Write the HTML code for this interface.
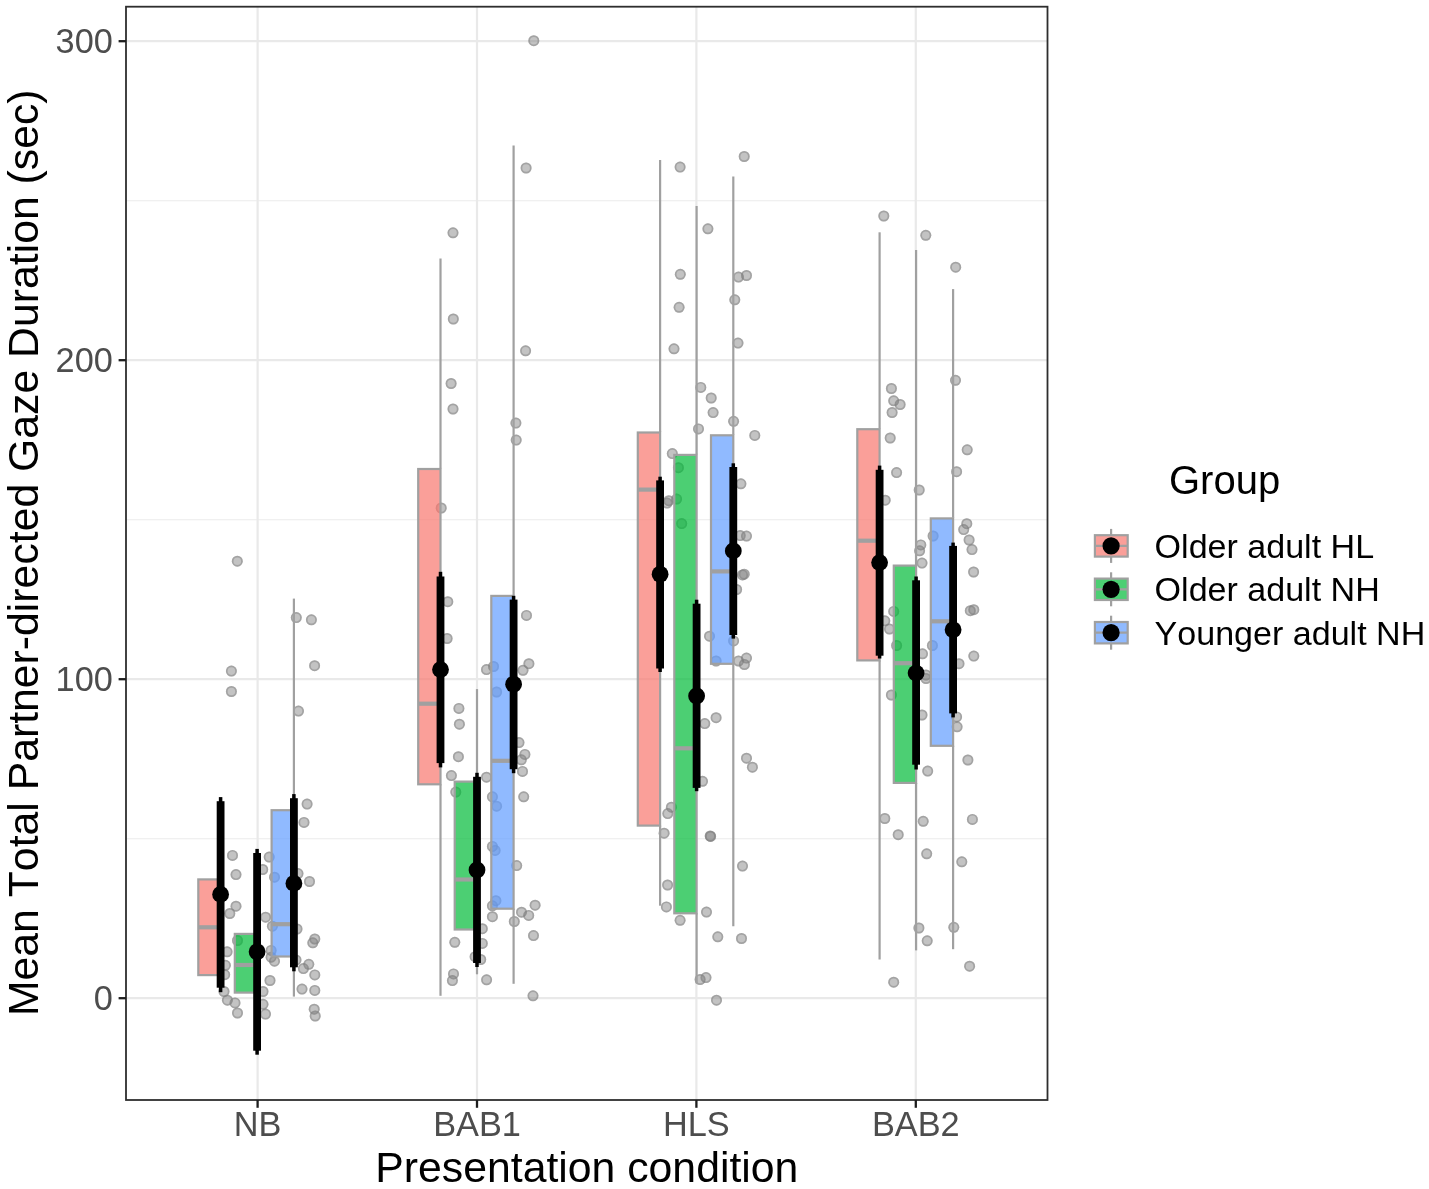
<!DOCTYPE html>
<html><head><meta charset="utf-8"><style>
html,body{margin:0;padding:0;background:#fff;}
svg{display:block;}
svg{will-change:transform;}
text{font-family:"Liberation Sans",sans-serif;font-kerning:none;}
.ax{font-size:34.3px;fill:#4D4D4D;}
.tt{font-size:42.75px;fill:#000;}
.lt{font-size:40px;fill:#000;}
.lx{font-size:34.05px;fill:#000;}
</style></head><body>
<svg width="1429" height="1189" viewBox="0 0 1429 1189">
<rect x="0" y="0" width="1429" height="1189" fill="#fff"/>
<line x1="126.0" x2="1047.5" y1="838.70" y2="838.70" stroke="#EBEBEB" stroke-width="1.1"/>
<line x1="126.0" x2="1047.5" y1="519.70" y2="519.70" stroke="#EBEBEB" stroke-width="1.1"/>
<line x1="126.0" x2="1047.5" y1="200.70" y2="200.70" stroke="#EBEBEB" stroke-width="1.1"/>
<line x1="126.0" x2="1047.5" y1="998.20" y2="998.20" stroke="#E9E9E9" stroke-width="2.2"/>
<line x1="126.0" x2="1047.5" y1="679.20" y2="679.20" stroke="#E9E9E9" stroke-width="2.2"/>
<line x1="126.0" x2="1047.5" y1="360.20" y2="360.20" stroke="#E9E9E9" stroke-width="2.2"/>
<line x1="126.0" x2="1047.5" y1="41.20" y2="41.20" stroke="#E9E9E9" stroke-width="2.2"/>
<line x1="257.6" x2="257.6" y1="6.7" y2="1100.0" stroke="#E9E9E9" stroke-width="2.2"/>
<line x1="477.0" x2="477.0" y1="6.7" y2="1100.0" stroke="#E9E9E9" stroke-width="2.2"/>
<line x1="696.4" x2="696.4" y1="6.7" y2="1100.0" stroke="#E9E9E9" stroke-width="2.2"/>
<line x1="915.8" x2="915.8" y1="6.7" y2="1100.0" stroke="#E9E9E9" stroke-width="2.2"/>
<circle cx="237.3" cy="561.2" r="5.5" fill="rgba(127,127,127,0.47)"/><circle cx="237.3" cy="561.2" r="4.65" fill="none" stroke="rgba(127,127,127,0.47)" stroke-width="1.7"/>
<circle cx="231.4" cy="671.1" r="5.5" fill="rgba(127,127,127,0.47)"/><circle cx="231.4" cy="671.1" r="4.65" fill="none" stroke="rgba(127,127,127,0.47)" stroke-width="1.7"/>
<circle cx="231.4" cy="691.5" r="5.5" fill="rgba(127,127,127,0.47)"/><circle cx="231.4" cy="691.5" r="4.65" fill="none" stroke="rgba(127,127,127,0.47)" stroke-width="1.7"/>
<circle cx="296.3" cy="617.6" r="5.5" fill="rgba(127,127,127,0.47)"/><circle cx="296.3" cy="617.6" r="4.65" fill="none" stroke="rgba(127,127,127,0.47)" stroke-width="1.7"/>
<circle cx="311.4" cy="619.8" r="5.5" fill="rgba(127,127,127,0.47)"/><circle cx="311.4" cy="619.8" r="4.65" fill="none" stroke="rgba(127,127,127,0.47)" stroke-width="1.7"/>
<circle cx="314.6" cy="665.7" r="5.5" fill="rgba(127,127,127,0.47)"/><circle cx="314.6" cy="665.7" r="4.65" fill="none" stroke="rgba(127,127,127,0.47)" stroke-width="1.7"/>
<circle cx="298.5" cy="711.1" r="5.5" fill="rgba(127,127,127,0.47)"/><circle cx="298.5" cy="711.1" r="4.65" fill="none" stroke="rgba(127,127,127,0.47)" stroke-width="1.7"/>
<circle cx="307.1" cy="804.1" r="5.5" fill="rgba(127,127,127,0.47)"/><circle cx="307.1" cy="804.1" r="4.65" fill="none" stroke="rgba(127,127,127,0.47)" stroke-width="1.7"/>
<circle cx="304" cy="822.4" r="5.5" fill="rgba(127,127,127,0.47)"/><circle cx="304" cy="822.4" r="4.65" fill="none" stroke="rgba(127,127,127,0.47)" stroke-width="1.7"/>
<circle cx="232.5" cy="855.4" r="5.5" fill="rgba(127,127,127,0.47)"/><circle cx="232.5" cy="855.4" r="4.65" fill="none" stroke="rgba(127,127,127,0.47)" stroke-width="1.7"/>
<circle cx="236" cy="874.6" r="5.5" fill="rgba(127,127,127,0.47)"/><circle cx="236" cy="874.6" r="4.65" fill="none" stroke="rgba(127,127,127,0.47)" stroke-width="1.7"/>
<circle cx="269.2" cy="857.1" r="5.5" fill="rgba(127,127,127,0.47)"/><circle cx="269.2" cy="857.1" r="4.65" fill="none" stroke="rgba(127,127,127,0.47)" stroke-width="1.7"/>
<circle cx="262.7" cy="869.5" r="5.5" fill="rgba(127,127,127,0.47)"/><circle cx="262.7" cy="869.5" r="4.65" fill="none" stroke="rgba(127,127,127,0.47)" stroke-width="1.7"/>
<circle cx="274.5" cy="877.2" r="5.5" fill="rgba(127,127,127,0.47)"/><circle cx="274.5" cy="877.2" r="4.65" fill="none" stroke="rgba(127,127,127,0.47)" stroke-width="1.7"/>
<circle cx="298" cy="873.6" r="5.5" fill="rgba(127,127,127,0.47)"/><circle cx="298" cy="873.6" r="4.65" fill="none" stroke="rgba(127,127,127,0.47)" stroke-width="1.7"/>
<circle cx="309.5" cy="881.5" r="5.5" fill="rgba(127,127,127,0.47)"/><circle cx="309.5" cy="881.5" r="4.65" fill="none" stroke="rgba(127,127,127,0.47)" stroke-width="1.7"/>
<circle cx="236" cy="906.2" r="5.5" fill="rgba(127,127,127,0.47)"/><circle cx="236" cy="906.2" r="4.65" fill="none" stroke="rgba(127,127,127,0.47)" stroke-width="1.7"/>
<circle cx="229.8" cy="913.5" r="5.5" fill="rgba(127,127,127,0.47)"/><circle cx="229.8" cy="913.5" r="4.65" fill="none" stroke="rgba(127,127,127,0.47)" stroke-width="1.7"/>
<circle cx="265.6" cy="917.2" r="5.5" fill="rgba(127,127,127,0.47)"/><circle cx="265.6" cy="917.2" r="4.65" fill="none" stroke="rgba(127,127,127,0.47)" stroke-width="1.7"/>
<circle cx="272.4" cy="926.2" r="5.5" fill="rgba(127,127,127,0.47)"/><circle cx="272.4" cy="926.2" r="4.65" fill="none" stroke="rgba(127,127,127,0.47)" stroke-width="1.7"/>
<circle cx="297" cy="929" r="5.5" fill="rgba(127,127,127,0.47)"/><circle cx="297" cy="929" r="4.65" fill="none" stroke="rgba(127,127,127,0.47)" stroke-width="1.7"/>
<circle cx="314.8" cy="939" r="5.5" fill="rgba(127,127,127,0.47)"/><circle cx="314.8" cy="939" r="4.65" fill="none" stroke="rgba(127,127,127,0.47)" stroke-width="1.7"/>
<circle cx="312.8" cy="942.8" r="5.5" fill="rgba(127,127,127,0.47)"/><circle cx="312.8" cy="942.8" r="4.65" fill="none" stroke="rgba(127,127,127,0.47)" stroke-width="1.7"/>
<circle cx="237.5" cy="940.5" r="5.5" fill="rgba(127,127,127,0.47)"/><circle cx="237.5" cy="940.5" r="4.65" fill="none" stroke="rgba(127,127,127,0.47)" stroke-width="1.7"/>
<circle cx="227.1" cy="951.8" r="5.5" fill="rgba(127,127,127,0.47)"/><circle cx="227.1" cy="951.8" r="4.65" fill="none" stroke="rgba(127,127,127,0.47)" stroke-width="1.7"/>
<circle cx="271.1" cy="950.4" r="5.5" fill="rgba(127,127,127,0.47)"/><circle cx="271.1" cy="950.4" r="4.65" fill="none" stroke="rgba(127,127,127,0.47)" stroke-width="1.7"/>
<circle cx="274.5" cy="961.2" r="5.5" fill="rgba(127,127,127,0.47)"/><circle cx="274.5" cy="961.2" r="4.65" fill="none" stroke="rgba(127,127,127,0.47)" stroke-width="1.7"/>
<circle cx="271.1" cy="957.2" r="5.5" fill="rgba(127,127,127,0.47)"/><circle cx="271.1" cy="957.2" r="4.65" fill="none" stroke="rgba(127,127,127,0.47)" stroke-width="1.7"/>
<circle cx="225.4" cy="965.3" r="5.5" fill="rgba(127,127,127,0.47)"/><circle cx="225.4" cy="965.3" r="4.65" fill="none" stroke="rgba(127,127,127,0.47)" stroke-width="1.7"/>
<circle cx="224.7" cy="974.7" r="5.5" fill="rgba(127,127,127,0.47)"/><circle cx="224.7" cy="974.7" r="4.65" fill="none" stroke="rgba(127,127,127,0.47)" stroke-width="1.7"/>
<circle cx="308.8" cy="964.3" r="5.5" fill="rgba(127,127,127,0.47)"/><circle cx="308.8" cy="964.3" r="4.65" fill="none" stroke="rgba(127,127,127,0.47)" stroke-width="1.7"/>
<circle cx="303.4" cy="968.6" r="5.5" fill="rgba(127,127,127,0.47)"/><circle cx="303.4" cy="968.6" r="4.65" fill="none" stroke="rgba(127,127,127,0.47)" stroke-width="1.7"/>
<circle cx="314.8" cy="974.9" r="5.5" fill="rgba(127,127,127,0.47)"/><circle cx="314.8" cy="974.9" r="4.65" fill="none" stroke="rgba(127,127,127,0.47)" stroke-width="1.7"/>
<circle cx="270" cy="980.5" r="5.5" fill="rgba(127,127,127,0.47)"/><circle cx="270" cy="980.5" r="4.65" fill="none" stroke="rgba(127,127,127,0.47)" stroke-width="1.7"/>
<circle cx="302" cy="989.1" r="5.5" fill="rgba(127,127,127,0.47)"/><circle cx="302" cy="989.1" r="4.65" fill="none" stroke="rgba(127,127,127,0.47)" stroke-width="1.7"/>
<circle cx="314.8" cy="990.4" r="5.5" fill="rgba(127,127,127,0.47)"/><circle cx="314.8" cy="990.4" r="4.65" fill="none" stroke="rgba(127,127,127,0.47)" stroke-width="1.7"/>
<circle cx="224" cy="991.5" r="5.5" fill="rgba(127,127,127,0.47)"/><circle cx="224" cy="991.5" r="4.65" fill="none" stroke="rgba(127,127,127,0.47)" stroke-width="1.7"/>
<circle cx="263" cy="991.5" r="5.5" fill="rgba(127,127,127,0.47)"/><circle cx="263" cy="991.5" r="4.65" fill="none" stroke="rgba(127,127,127,0.47)" stroke-width="1.7"/>
<circle cx="227.4" cy="1000.2" r="5.5" fill="rgba(127,127,127,0.47)"/><circle cx="227.4" cy="1000.2" r="4.65" fill="none" stroke="rgba(127,127,127,0.47)" stroke-width="1.7"/>
<circle cx="235" cy="1002.9" r="5.5" fill="rgba(127,127,127,0.47)"/><circle cx="235" cy="1002.9" r="4.65" fill="none" stroke="rgba(127,127,127,0.47)" stroke-width="1.7"/>
<circle cx="237.5" cy="1013" r="5.5" fill="rgba(127,127,127,0.47)"/><circle cx="237.5" cy="1013" r="4.65" fill="none" stroke="rgba(127,127,127,0.47)" stroke-width="1.7"/>
<circle cx="263" cy="1004.3" r="5.5" fill="rgba(127,127,127,0.47)"/><circle cx="263" cy="1004.3" r="4.65" fill="none" stroke="rgba(127,127,127,0.47)" stroke-width="1.7"/>
<circle cx="265.5" cy="1014.1" r="5.5" fill="rgba(127,127,127,0.47)"/><circle cx="265.5" cy="1014.1" r="4.65" fill="none" stroke="rgba(127,127,127,0.47)" stroke-width="1.7"/>
<circle cx="314.2" cy="1009.2" r="5.5" fill="rgba(127,127,127,0.47)"/><circle cx="314.2" cy="1009.2" r="4.65" fill="none" stroke="rgba(127,127,127,0.47)" stroke-width="1.7"/>
<circle cx="315.2" cy="1016" r="5.5" fill="rgba(127,127,127,0.47)"/><circle cx="315.2" cy="1016" r="4.65" fill="none" stroke="rgba(127,127,127,0.47)" stroke-width="1.7"/>
<circle cx="296" cy="960" r="5.5" fill="rgba(127,127,127,0.47)"/><circle cx="296" cy="960" r="4.65" fill="none" stroke="rgba(127,127,127,0.47)" stroke-width="1.7"/>
<circle cx="533.8" cy="40.7" r="5.5" fill="rgba(127,127,127,0.47)"/><circle cx="533.8" cy="40.7" r="4.65" fill="none" stroke="rgba(127,127,127,0.47)" stroke-width="1.7"/>
<circle cx="526.1" cy="168" r="5.5" fill="rgba(127,127,127,0.47)"/><circle cx="526.1" cy="168" r="4.65" fill="none" stroke="rgba(127,127,127,0.47)" stroke-width="1.7"/>
<circle cx="453" cy="232.8" r="5.5" fill="rgba(127,127,127,0.47)"/><circle cx="453" cy="232.8" r="4.65" fill="none" stroke="rgba(127,127,127,0.47)" stroke-width="1.7"/>
<circle cx="453.3" cy="319" r="5.5" fill="rgba(127,127,127,0.47)"/><circle cx="453.3" cy="319" r="4.65" fill="none" stroke="rgba(127,127,127,0.47)" stroke-width="1.7"/>
<circle cx="525.6" cy="350.8" r="5.5" fill="rgba(127,127,127,0.47)"/><circle cx="525.6" cy="350.8" r="4.65" fill="none" stroke="rgba(127,127,127,0.47)" stroke-width="1.7"/>
<circle cx="451.1" cy="383.5" r="5.5" fill="rgba(127,127,127,0.47)"/><circle cx="451.1" cy="383.5" r="4.65" fill="none" stroke="rgba(127,127,127,0.47)" stroke-width="1.7"/>
<circle cx="453" cy="409" r="5.5" fill="rgba(127,127,127,0.47)"/><circle cx="453" cy="409" r="4.65" fill="none" stroke="rgba(127,127,127,0.47)" stroke-width="1.7"/>
<circle cx="515.9" cy="423.1" r="5.5" fill="rgba(127,127,127,0.47)"/><circle cx="515.9" cy="423.1" r="4.65" fill="none" stroke="rgba(127,127,127,0.47)" stroke-width="1.7"/>
<circle cx="516.2" cy="440.1" r="5.5" fill="rgba(127,127,127,0.47)"/><circle cx="516.2" cy="440.1" r="4.65" fill="none" stroke="rgba(127,127,127,0.47)" stroke-width="1.7"/>
<circle cx="441.2" cy="508" r="5.5" fill="rgba(127,127,127,0.47)"/><circle cx="441.2" cy="508" r="4.65" fill="none" stroke="rgba(127,127,127,0.47)" stroke-width="1.7"/>
<circle cx="447.8" cy="601.7" r="5.5" fill="rgba(127,127,127,0.47)"/><circle cx="447.8" cy="601.7" r="4.65" fill="none" stroke="rgba(127,127,127,0.47)" stroke-width="1.7"/>
<circle cx="447.1" cy="638.5" r="5.5" fill="rgba(127,127,127,0.47)"/><circle cx="447.1" cy="638.5" r="4.65" fill="none" stroke="rgba(127,127,127,0.47)" stroke-width="1.7"/>
<circle cx="526.5" cy="615.4" r="5.5" fill="rgba(127,127,127,0.47)"/><circle cx="526.5" cy="615.4" r="4.65" fill="none" stroke="rgba(127,127,127,0.47)" stroke-width="1.7"/>
<circle cx="528.9" cy="663.7" r="5.5" fill="rgba(127,127,127,0.47)"/><circle cx="528.9" cy="663.7" r="4.65" fill="none" stroke="rgba(127,127,127,0.47)" stroke-width="1.7"/>
<circle cx="523" cy="670.3" r="5.5" fill="rgba(127,127,127,0.47)"/><circle cx="523" cy="670.3" r="4.65" fill="none" stroke="rgba(127,127,127,0.47)" stroke-width="1.7"/>
<circle cx="486.5" cy="669.6" r="5.5" fill="rgba(127,127,127,0.47)"/><circle cx="486.5" cy="669.6" r="4.65" fill="none" stroke="rgba(127,127,127,0.47)" stroke-width="1.7"/>
<circle cx="493.5" cy="666.5" r="5.5" fill="rgba(127,127,127,0.47)"/><circle cx="493.5" cy="666.5" r="4.65" fill="none" stroke="rgba(127,127,127,0.47)" stroke-width="1.7"/>
<circle cx="496.6" cy="692" r="5.5" fill="rgba(127,127,127,0.47)"/><circle cx="496.6" cy="692" r="4.65" fill="none" stroke="rgba(127,127,127,0.47)" stroke-width="1.7"/>
<circle cx="458.9" cy="708.4" r="5.5" fill="rgba(127,127,127,0.47)"/><circle cx="458.9" cy="708.4" r="4.65" fill="none" stroke="rgba(127,127,127,0.47)" stroke-width="1.7"/>
<circle cx="459.4" cy="724.2" r="5.5" fill="rgba(127,127,127,0.47)"/><circle cx="459.4" cy="724.2" r="4.65" fill="none" stroke="rgba(127,127,127,0.47)" stroke-width="1.7"/>
<circle cx="458.4" cy="756.7" r="5.5" fill="rgba(127,127,127,0.47)"/><circle cx="458.4" cy="756.7" r="4.65" fill="none" stroke="rgba(127,127,127,0.47)" stroke-width="1.7"/>
<circle cx="451.4" cy="775.6" r="5.5" fill="rgba(127,127,127,0.47)"/><circle cx="451.4" cy="775.6" r="4.65" fill="none" stroke="rgba(127,127,127,0.47)" stroke-width="1.7"/>
<circle cx="455.8" cy="792.1" r="5.5" fill="rgba(127,127,127,0.47)"/><circle cx="455.8" cy="792.1" r="4.65" fill="none" stroke="rgba(127,127,127,0.47)" stroke-width="1.7"/>
<circle cx="486.5" cy="777.2" r="5.5" fill="rgba(127,127,127,0.47)"/><circle cx="486.5" cy="777.2" r="4.65" fill="none" stroke="rgba(127,127,127,0.47)" stroke-width="1.7"/>
<circle cx="492.4" cy="796.8" r="5.5" fill="rgba(127,127,127,0.47)"/><circle cx="492.4" cy="796.8" r="4.65" fill="none" stroke="rgba(127,127,127,0.47)" stroke-width="1.7"/>
<circle cx="496.6" cy="806.2" r="5.5" fill="rgba(127,127,127,0.47)"/><circle cx="496.6" cy="806.2" r="4.65" fill="none" stroke="rgba(127,127,127,0.47)" stroke-width="1.7"/>
<circle cx="519" cy="742.6" r="5.5" fill="rgba(127,127,127,0.47)"/><circle cx="519" cy="742.6" r="4.65" fill="none" stroke="rgba(127,127,127,0.47)" stroke-width="1.7"/>
<circle cx="524.9" cy="754.4" r="5.5" fill="rgba(127,127,127,0.47)"/><circle cx="524.9" cy="754.4" r="4.65" fill="none" stroke="rgba(127,127,127,0.47)" stroke-width="1.7"/>
<circle cx="521.3" cy="759.8" r="5.5" fill="rgba(127,127,127,0.47)"/><circle cx="521.3" cy="759.8" r="4.65" fill="none" stroke="rgba(127,127,127,0.47)" stroke-width="1.7"/>
<circle cx="522.5" cy="771.4" r="5.5" fill="rgba(127,127,127,0.47)"/><circle cx="522.5" cy="771.4" r="4.65" fill="none" stroke="rgba(127,127,127,0.47)" stroke-width="1.7"/>
<circle cx="523.7" cy="796.8" r="5.5" fill="rgba(127,127,127,0.47)"/><circle cx="523.7" cy="796.8" r="4.65" fill="none" stroke="rgba(127,127,127,0.47)" stroke-width="1.7"/>
<circle cx="492.4" cy="846.4" r="5.5" fill="rgba(127,127,127,0.47)"/><circle cx="492.4" cy="846.4" r="4.65" fill="none" stroke="rgba(127,127,127,0.47)" stroke-width="1.7"/>
<circle cx="495.1" cy="850.4" r="5.5" fill="rgba(127,127,127,0.47)"/><circle cx="495.1" cy="850.4" r="4.65" fill="none" stroke="rgba(127,127,127,0.47)" stroke-width="1.7"/>
<circle cx="516.7" cy="865.6" r="5.5" fill="rgba(127,127,127,0.47)"/><circle cx="516.7" cy="865.6" r="4.65" fill="none" stroke="rgba(127,127,127,0.47)" stroke-width="1.7"/>
<circle cx="495.9" cy="900.7" r="5.5" fill="rgba(127,127,127,0.47)"/><circle cx="495.9" cy="900.7" r="4.65" fill="none" stroke="rgba(127,127,127,0.47)" stroke-width="1.7"/>
<circle cx="492.4" cy="905.8" r="5.5" fill="rgba(127,127,127,0.47)"/><circle cx="492.4" cy="905.8" r="4.65" fill="none" stroke="rgba(127,127,127,0.47)" stroke-width="1.7"/>
<circle cx="535.1" cy="905.2" r="5.5" fill="rgba(127,127,127,0.47)"/><circle cx="535.1" cy="905.2" r="4.65" fill="none" stroke="rgba(127,127,127,0.47)" stroke-width="1.7"/>
<circle cx="521.5" cy="912.2" r="5.5" fill="rgba(127,127,127,0.47)"/><circle cx="521.5" cy="912.2" r="4.65" fill="none" stroke="rgba(127,127,127,0.47)" stroke-width="1.7"/>
<circle cx="528.7" cy="915.4" r="5.5" fill="rgba(127,127,127,0.47)"/><circle cx="528.7" cy="915.4" r="4.65" fill="none" stroke="rgba(127,127,127,0.47)" stroke-width="1.7"/>
<circle cx="492.4" cy="916.7" r="5.5" fill="rgba(127,127,127,0.47)"/><circle cx="492.4" cy="916.7" r="4.65" fill="none" stroke="rgba(127,127,127,0.47)" stroke-width="1.7"/>
<circle cx="514.3" cy="921.5" r="5.5" fill="rgba(127,127,127,0.47)"/><circle cx="514.3" cy="921.5" r="4.65" fill="none" stroke="rgba(127,127,127,0.47)" stroke-width="1.7"/>
<circle cx="533.5" cy="935.6" r="5.5" fill="rgba(127,127,127,0.47)"/><circle cx="533.5" cy="935.6" r="4.65" fill="none" stroke="rgba(127,127,127,0.47)" stroke-width="1.7"/>
<circle cx="482.3" cy="928.7" r="5.5" fill="rgba(127,127,127,0.47)"/><circle cx="482.3" cy="928.7" r="4.65" fill="none" stroke="rgba(127,127,127,0.47)" stroke-width="1.7"/>
<circle cx="454.8" cy="942.3" r="5.5" fill="rgba(127,127,127,0.47)"/><circle cx="454.8" cy="942.3" r="4.65" fill="none" stroke="rgba(127,127,127,0.47)" stroke-width="1.7"/>
<circle cx="482.3" cy="943.4" r="5.5" fill="rgba(127,127,127,0.47)"/><circle cx="482.3" cy="943.4" r="4.65" fill="none" stroke="rgba(127,127,127,0.47)" stroke-width="1.7"/>
<circle cx="475.1" cy="956.7" r="5.5" fill="rgba(127,127,127,0.47)"/><circle cx="475.1" cy="956.7" r="4.65" fill="none" stroke="rgba(127,127,127,0.47)" stroke-width="1.7"/>
<circle cx="480.7" cy="959.5" r="5.5" fill="rgba(127,127,127,0.47)"/><circle cx="480.7" cy="959.5" r="4.65" fill="none" stroke="rgba(127,127,127,0.47)" stroke-width="1.7"/>
<circle cx="453.5" cy="973.9" r="5.5" fill="rgba(127,127,127,0.47)"/><circle cx="453.5" cy="973.9" r="4.65" fill="none" stroke="rgba(127,127,127,0.47)" stroke-width="1.7"/>
<circle cx="452.4" cy="980.6" r="5.5" fill="rgba(127,127,127,0.47)"/><circle cx="452.4" cy="980.6" r="4.65" fill="none" stroke="rgba(127,127,127,0.47)" stroke-width="1.7"/>
<circle cx="486.6" cy="979.8" r="5.5" fill="rgba(127,127,127,0.47)"/><circle cx="486.6" cy="979.8" r="4.65" fill="none" stroke="rgba(127,127,127,0.47)" stroke-width="1.7"/>
<circle cx="533" cy="995.8" r="5.5" fill="rgba(127,127,127,0.47)"/><circle cx="533" cy="995.8" r="4.65" fill="none" stroke="rgba(127,127,127,0.47)" stroke-width="1.7"/>
<circle cx="744.2" cy="156.5" r="5.5" fill="rgba(127,127,127,0.47)"/><circle cx="744.2" cy="156.5" r="4.65" fill="none" stroke="rgba(127,127,127,0.47)" stroke-width="1.7"/>
<circle cx="680.1" cy="167.1" r="5.5" fill="rgba(127,127,127,0.47)"/><circle cx="680.1" cy="167.1" r="4.65" fill="none" stroke="rgba(127,127,127,0.47)" stroke-width="1.7"/>
<circle cx="707.9" cy="228.8" r="5.5" fill="rgba(127,127,127,0.47)"/><circle cx="707.9" cy="228.8" r="4.65" fill="none" stroke="rgba(127,127,127,0.47)" stroke-width="1.7"/>
<circle cx="680.3" cy="274.3" r="5.5" fill="rgba(127,127,127,0.47)"/><circle cx="680.3" cy="274.3" r="4.65" fill="none" stroke="rgba(127,127,127,0.47)" stroke-width="1.7"/>
<circle cx="738.5" cy="277.1" r="5.5" fill="rgba(127,127,127,0.47)"/><circle cx="738.5" cy="277.1" r="4.65" fill="none" stroke="rgba(127,127,127,0.47)" stroke-width="1.7"/>
<circle cx="746.5" cy="275.5" r="5.5" fill="rgba(127,127,127,0.47)"/><circle cx="746.5" cy="275.5" r="4.65" fill="none" stroke="rgba(127,127,127,0.47)" stroke-width="1.7"/>
<circle cx="679.1" cy="307.3" r="5.5" fill="rgba(127,127,127,0.47)"/><circle cx="679.1" cy="307.3" r="4.65" fill="none" stroke="rgba(127,127,127,0.47)" stroke-width="1.7"/>
<circle cx="734.8" cy="299.8" r="5.5" fill="rgba(127,127,127,0.47)"/><circle cx="734.8" cy="299.8" r="4.65" fill="none" stroke="rgba(127,127,127,0.47)" stroke-width="1.7"/>
<circle cx="674" cy="348.8" r="5.5" fill="rgba(127,127,127,0.47)"/><circle cx="674" cy="348.8" r="4.65" fill="none" stroke="rgba(127,127,127,0.47)" stroke-width="1.7"/>
<circle cx="738" cy="343.1" r="5.5" fill="rgba(127,127,127,0.47)"/><circle cx="738" cy="343.1" r="4.65" fill="none" stroke="rgba(127,127,127,0.47)" stroke-width="1.7"/>
<circle cx="700.8" cy="387.4" r="5.5" fill="rgba(127,127,127,0.47)"/><circle cx="700.8" cy="387.4" r="4.65" fill="none" stroke="rgba(127,127,127,0.47)" stroke-width="1.7"/>
<circle cx="711.2" cy="398" r="5.5" fill="rgba(127,127,127,0.47)"/><circle cx="711.2" cy="398" r="4.65" fill="none" stroke="rgba(127,127,127,0.47)" stroke-width="1.7"/>
<circle cx="713.1" cy="412.6" r="5.5" fill="rgba(127,127,127,0.47)"/><circle cx="713.1" cy="412.6" r="4.65" fill="none" stroke="rgba(127,127,127,0.47)" stroke-width="1.7"/>
<circle cx="733.6" cy="421.3" r="5.5" fill="rgba(127,127,127,0.47)"/><circle cx="733.6" cy="421.3" r="4.65" fill="none" stroke="rgba(127,127,127,0.47)" stroke-width="1.7"/>
<circle cx="698.5" cy="428.9" r="5.5" fill="rgba(127,127,127,0.47)"/><circle cx="698.5" cy="428.9" r="4.65" fill="none" stroke="rgba(127,127,127,0.47)" stroke-width="1.7"/>
<circle cx="754.8" cy="435.4" r="5.5" fill="rgba(127,127,127,0.47)"/><circle cx="754.8" cy="435.4" r="4.65" fill="none" stroke="rgba(127,127,127,0.47)" stroke-width="1.7"/>
<circle cx="672.3" cy="453.6" r="5.5" fill="rgba(127,127,127,0.47)"/><circle cx="672.3" cy="453.6" r="4.65" fill="none" stroke="rgba(127,127,127,0.47)" stroke-width="1.7"/>
<circle cx="678.4" cy="467.7" r="5.5" fill="rgba(127,127,127,0.47)"/><circle cx="678.4" cy="467.7" r="4.65" fill="none" stroke="rgba(127,127,127,0.47)" stroke-width="1.7"/>
<circle cx="740.9" cy="483.8" r="5.5" fill="rgba(127,127,127,0.47)"/><circle cx="740.9" cy="483.8" r="4.65" fill="none" stroke="rgba(127,127,127,0.47)" stroke-width="1.7"/>
<circle cx="667.1" cy="503.1" r="5.5" fill="rgba(127,127,127,0.47)"/><circle cx="667.1" cy="503.1" r="4.65" fill="none" stroke="rgba(127,127,127,0.47)" stroke-width="1.7"/>
<circle cx="668.8" cy="500.7" r="5.5" fill="rgba(127,127,127,0.47)"/><circle cx="668.8" cy="500.7" r="4.65" fill="none" stroke="rgba(127,127,127,0.47)" stroke-width="1.7"/>
<circle cx="676.6" cy="499.1" r="5.5" fill="rgba(127,127,127,0.47)"/><circle cx="676.6" cy="499.1" r="4.65" fill="none" stroke="rgba(127,127,127,0.47)" stroke-width="1.7"/>
<circle cx="681.7" cy="523.6" r="5.5" fill="rgba(127,127,127,0.47)"/><circle cx="681.7" cy="523.6" r="4.65" fill="none" stroke="rgba(127,127,127,0.47)" stroke-width="1.7"/>
<circle cx="740.2" cy="535.6" r="5.5" fill="rgba(127,127,127,0.47)"/><circle cx="740.2" cy="535.6" r="4.65" fill="none" stroke="rgba(127,127,127,0.47)" stroke-width="1.7"/>
<circle cx="746.5" cy="536.1" r="5.5" fill="rgba(127,127,127,0.47)"/><circle cx="746.5" cy="536.1" r="4.65" fill="none" stroke="rgba(127,127,127,0.47)" stroke-width="1.7"/>
<circle cx="742.5" cy="574.9" r="5.5" fill="rgba(127,127,127,0.47)"/><circle cx="742.5" cy="574.9" r="4.65" fill="none" stroke="rgba(127,127,127,0.47)" stroke-width="1.7"/>
<circle cx="744.2" cy="574.2" r="5.5" fill="rgba(127,127,127,0.47)"/><circle cx="744.2" cy="574.2" r="4.65" fill="none" stroke="rgba(127,127,127,0.47)" stroke-width="1.7"/>
<circle cx="736.6" cy="589.5" r="5.5" fill="rgba(127,127,127,0.47)"/><circle cx="736.6" cy="589.5" r="4.65" fill="none" stroke="rgba(127,127,127,0.47)" stroke-width="1.7"/>
<circle cx="709.5" cy="636.2" r="5.5" fill="rgba(127,127,127,0.47)"/><circle cx="709.5" cy="636.2" r="4.65" fill="none" stroke="rgba(127,127,127,0.47)" stroke-width="1.7"/>
<circle cx="733.6" cy="640.9" r="5.5" fill="rgba(127,127,127,0.47)"/><circle cx="733.6" cy="640.9" r="4.65" fill="none" stroke="rgba(127,127,127,0.47)" stroke-width="1.7"/>
<circle cx="716.1" cy="661" r="5.5" fill="rgba(127,127,127,0.47)"/><circle cx="716.1" cy="661" r="4.65" fill="none" stroke="rgba(127,127,127,0.47)" stroke-width="1.7"/>
<circle cx="738.5" cy="661" r="5.5" fill="rgba(127,127,127,0.47)"/><circle cx="738.5" cy="661" r="4.65" fill="none" stroke="rgba(127,127,127,0.47)" stroke-width="1.7"/>
<circle cx="746.5" cy="658.1" r="5.5" fill="rgba(127,127,127,0.47)"/><circle cx="746.5" cy="658.1" r="4.65" fill="none" stroke="rgba(127,127,127,0.47)" stroke-width="1.7"/>
<circle cx="744.4" cy="664.5" r="5.5" fill="rgba(127,127,127,0.47)"/><circle cx="744.4" cy="664.5" r="4.65" fill="none" stroke="rgba(127,127,127,0.47)" stroke-width="1.7"/>
<circle cx="716.1" cy="717.7" r="5.5" fill="rgba(127,127,127,0.47)"/><circle cx="716.1" cy="717.7" r="4.65" fill="none" stroke="rgba(127,127,127,0.47)" stroke-width="1.7"/>
<circle cx="704.8" cy="723.6" r="5.5" fill="rgba(127,127,127,0.47)"/><circle cx="704.8" cy="723.6" r="4.65" fill="none" stroke="rgba(127,127,127,0.47)" stroke-width="1.7"/>
<circle cx="746.5" cy="758.2" r="5.5" fill="rgba(127,127,127,0.47)"/><circle cx="746.5" cy="758.2" r="4.65" fill="none" stroke="rgba(127,127,127,0.47)" stroke-width="1.7"/>
<circle cx="752.4" cy="767.2" r="5.5" fill="rgba(127,127,127,0.47)"/><circle cx="752.4" cy="767.2" r="4.65" fill="none" stroke="rgba(127,127,127,0.47)" stroke-width="1.7"/>
<circle cx="702.5" cy="781.3" r="5.5" fill="rgba(127,127,127,0.47)"/><circle cx="702.5" cy="781.3" r="4.65" fill="none" stroke="rgba(127,127,127,0.47)" stroke-width="1.7"/>
<circle cx="671.4" cy="807.2" r="5.5" fill="rgba(127,127,127,0.47)"/><circle cx="671.4" cy="807.2" r="4.65" fill="none" stroke="rgba(127,127,127,0.47)" stroke-width="1.7"/>
<circle cx="667.8" cy="813.6" r="5.5" fill="rgba(127,127,127,0.47)"/><circle cx="667.8" cy="813.6" r="4.65" fill="none" stroke="rgba(127,127,127,0.47)" stroke-width="1.7"/>
<circle cx="664.1" cy="833.2" r="5.5" fill="rgba(127,127,127,0.47)"/><circle cx="664.1" cy="833.2" r="4.65" fill="none" stroke="rgba(127,127,127,0.47)" stroke-width="1.7"/>
<circle cx="710.2" cy="836" r="5.5" fill="rgba(127,127,127,0.47)"/><circle cx="710.2" cy="836" r="4.65" fill="none" stroke="rgba(127,127,127,0.47)" stroke-width="1.7"/>
<circle cx="710.6" cy="836.4" r="5.5" fill="rgba(127,127,127,0.47)"/><circle cx="710.6" cy="836.4" r="4.65" fill="none" stroke="rgba(127,127,127,0.47)" stroke-width="1.7"/>
<circle cx="742.5" cy="866.1" r="5.5" fill="rgba(127,127,127,0.47)"/><circle cx="742.5" cy="866.1" r="4.65" fill="none" stroke="rgba(127,127,127,0.47)" stroke-width="1.7"/>
<circle cx="667.6" cy="885" r="5.5" fill="rgba(127,127,127,0.47)"/><circle cx="667.6" cy="885" r="4.65" fill="none" stroke="rgba(127,127,127,0.47)" stroke-width="1.7"/>
<circle cx="666.4" cy="906.9" r="5.5" fill="rgba(127,127,127,0.47)"/><circle cx="666.4" cy="906.9" r="4.65" fill="none" stroke="rgba(127,127,127,0.47)" stroke-width="1.7"/>
<circle cx="706.5" cy="912.1" r="5.5" fill="rgba(127,127,127,0.47)"/><circle cx="706.5" cy="912.1" r="4.65" fill="none" stroke="rgba(127,127,127,0.47)" stroke-width="1.7"/>
<circle cx="680.1" cy="920.3" r="5.5" fill="rgba(127,127,127,0.47)"/><circle cx="680.1" cy="920.3" r="4.65" fill="none" stroke="rgba(127,127,127,0.47)" stroke-width="1.7"/>
<circle cx="717.8" cy="936.8" r="5.5" fill="rgba(127,127,127,0.47)"/><circle cx="717.8" cy="936.8" r="4.65" fill="none" stroke="rgba(127,127,127,0.47)" stroke-width="1.7"/>
<circle cx="741.5" cy="938.5" r="5.5" fill="rgba(127,127,127,0.47)"/><circle cx="741.5" cy="938.5" r="4.65" fill="none" stroke="rgba(127,127,127,0.47)" stroke-width="1.7"/>
<circle cx="700.1" cy="979.5" r="5.5" fill="rgba(127,127,127,0.47)"/><circle cx="700.1" cy="979.5" r="4.65" fill="none" stroke="rgba(127,127,127,0.47)" stroke-width="1.7"/>
<circle cx="706" cy="977.6" r="5.5" fill="rgba(127,127,127,0.47)"/><circle cx="706" cy="977.6" r="4.65" fill="none" stroke="rgba(127,127,127,0.47)" stroke-width="1.7"/>
<circle cx="716.5" cy="1000.2" r="5.5" fill="rgba(127,127,127,0.47)"/><circle cx="716.5" cy="1000.2" r="4.65" fill="none" stroke="rgba(127,127,127,0.47)" stroke-width="1.7"/>
<circle cx="883.8" cy="216" r="5.5" fill="rgba(127,127,127,0.47)"/><circle cx="883.8" cy="216" r="4.65" fill="none" stroke="rgba(127,127,127,0.47)" stroke-width="1.7"/>
<circle cx="925.8" cy="235.3" r="5.5" fill="rgba(127,127,127,0.47)"/><circle cx="925.8" cy="235.3" r="4.65" fill="none" stroke="rgba(127,127,127,0.47)" stroke-width="1.7"/>
<circle cx="955.7" cy="267.2" r="5.5" fill="rgba(127,127,127,0.47)"/><circle cx="955.7" cy="267.2" r="4.65" fill="none" stroke="rgba(127,127,127,0.47)" stroke-width="1.7"/>
<circle cx="955.5" cy="380.3" r="5.5" fill="rgba(127,127,127,0.47)"/><circle cx="955.5" cy="380.3" r="4.65" fill="none" stroke="rgba(127,127,127,0.47)" stroke-width="1.7"/>
<circle cx="891.4" cy="388.5" r="5.5" fill="rgba(127,127,127,0.47)"/><circle cx="891.4" cy="388.5" r="4.65" fill="none" stroke="rgba(127,127,127,0.47)" stroke-width="1.7"/>
<circle cx="893.7" cy="400.8" r="5.5" fill="rgba(127,127,127,0.47)"/><circle cx="893.7" cy="400.8" r="4.65" fill="none" stroke="rgba(127,127,127,0.47)" stroke-width="1.7"/>
<circle cx="900.1" cy="404.5" r="5.5" fill="rgba(127,127,127,0.47)"/><circle cx="900.1" cy="404.5" r="4.65" fill="none" stroke="rgba(127,127,127,0.47)" stroke-width="1.7"/>
<circle cx="892.1" cy="412.5" r="5.5" fill="rgba(127,127,127,0.47)"/><circle cx="892.1" cy="412.5" r="4.65" fill="none" stroke="rgba(127,127,127,0.47)" stroke-width="1.7"/>
<circle cx="890.2" cy="438" r="5.5" fill="rgba(127,127,127,0.47)"/><circle cx="890.2" cy="438" r="4.65" fill="none" stroke="rgba(127,127,127,0.47)" stroke-width="1.7"/>
<circle cx="967.2" cy="449.8" r="5.5" fill="rgba(127,127,127,0.47)"/><circle cx="967.2" cy="449.8" r="4.65" fill="none" stroke="rgba(127,127,127,0.47)" stroke-width="1.7"/>
<circle cx="896.6" cy="472.6" r="5.5" fill="rgba(127,127,127,0.47)"/><circle cx="896.6" cy="472.6" r="4.65" fill="none" stroke="rgba(127,127,127,0.47)" stroke-width="1.7"/>
<circle cx="956.6" cy="471.7" r="5.5" fill="rgba(127,127,127,0.47)"/><circle cx="956.6" cy="471.7" r="4.65" fill="none" stroke="rgba(127,127,127,0.47)" stroke-width="1.7"/>
<circle cx="919.2" cy="490" r="5.5" fill="rgba(127,127,127,0.47)"/><circle cx="919.2" cy="490" r="4.65" fill="none" stroke="rgba(127,127,127,0.47)" stroke-width="1.7"/>
<circle cx="885.2" cy="500.2" r="5.5" fill="rgba(127,127,127,0.47)"/><circle cx="885.2" cy="500.2" r="4.65" fill="none" stroke="rgba(127,127,127,0.47)" stroke-width="1.7"/>
<circle cx="966.8" cy="523.7" r="5.5" fill="rgba(127,127,127,0.47)"/><circle cx="966.8" cy="523.7" r="4.65" fill="none" stroke="rgba(127,127,127,0.47)" stroke-width="1.7"/>
<circle cx="963.7" cy="529.6" r="5.5" fill="rgba(127,127,127,0.47)"/><circle cx="963.7" cy="529.6" r="4.65" fill="none" stroke="rgba(127,127,127,0.47)" stroke-width="1.7"/>
<circle cx="933.1" cy="536" r="5.5" fill="rgba(127,127,127,0.47)"/><circle cx="933.1" cy="536" r="4.65" fill="none" stroke="rgba(127,127,127,0.47)" stroke-width="1.7"/>
<circle cx="969.1" cy="540" r="5.5" fill="rgba(127,127,127,0.47)"/><circle cx="969.1" cy="540" r="4.65" fill="none" stroke="rgba(127,127,127,0.47)" stroke-width="1.7"/>
<circle cx="972" cy="549.6" r="5.5" fill="rgba(127,127,127,0.47)"/><circle cx="972" cy="549.6" r="4.65" fill="none" stroke="rgba(127,127,127,0.47)" stroke-width="1.7"/>
<circle cx="920.8" cy="544.9" r="5.5" fill="rgba(127,127,127,0.47)"/><circle cx="920.8" cy="544.9" r="4.65" fill="none" stroke="rgba(127,127,127,0.47)" stroke-width="1.7"/>
<circle cx="919.6" cy="550.8" r="5.5" fill="rgba(127,127,127,0.47)"/><circle cx="919.6" cy="550.8" r="4.65" fill="none" stroke="rgba(127,127,127,0.47)" stroke-width="1.7"/>
<circle cx="922" cy="563.1" r="5.5" fill="rgba(127,127,127,0.47)"/><circle cx="922" cy="563.1" r="4.65" fill="none" stroke="rgba(127,127,127,0.47)" stroke-width="1.7"/>
<circle cx="973.6" cy="572" r="5.5" fill="rgba(127,127,127,0.47)"/><circle cx="973.6" cy="572" r="4.65" fill="none" stroke="rgba(127,127,127,0.47)" stroke-width="1.7"/>
<circle cx="970.3" cy="610.7" r="5.5" fill="rgba(127,127,127,0.47)"/><circle cx="970.3" cy="610.7" r="4.65" fill="none" stroke="rgba(127,127,127,0.47)" stroke-width="1.7"/>
<circle cx="973.8" cy="609.7" r="5.5" fill="rgba(127,127,127,0.47)"/><circle cx="973.8" cy="609.7" r="4.65" fill="none" stroke="rgba(127,127,127,0.47)" stroke-width="1.7"/>
<circle cx="893.7" cy="611.4" r="5.5" fill="rgba(127,127,127,0.47)"/><circle cx="893.7" cy="611.4" r="4.65" fill="none" stroke="rgba(127,127,127,0.47)" stroke-width="1.7"/>
<circle cx="884.8" cy="620.8" r="5.5" fill="rgba(127,127,127,0.47)"/><circle cx="884.8" cy="620.8" r="4.65" fill="none" stroke="rgba(127,127,127,0.47)" stroke-width="1.7"/>
<circle cx="889.5" cy="629" r="5.5" fill="rgba(127,127,127,0.47)"/><circle cx="889.5" cy="629" r="4.65" fill="none" stroke="rgba(127,127,127,0.47)" stroke-width="1.7"/>
<circle cx="896.6" cy="645.5" r="5.5" fill="rgba(127,127,127,0.47)"/><circle cx="896.6" cy="645.5" r="4.65" fill="none" stroke="rgba(127,127,127,0.47)" stroke-width="1.7"/>
<circle cx="932.4" cy="645.5" r="5.5" fill="rgba(127,127,127,0.47)"/><circle cx="932.4" cy="645.5" r="4.65" fill="none" stroke="rgba(127,127,127,0.47)" stroke-width="1.7"/>
<circle cx="922.5" cy="653.8" r="5.5" fill="rgba(127,127,127,0.47)"/><circle cx="922.5" cy="653.8" r="4.65" fill="none" stroke="rgba(127,127,127,0.47)" stroke-width="1.7"/>
<circle cx="973.8" cy="656.1" r="5.5" fill="rgba(127,127,127,0.47)"/><circle cx="973.8" cy="656.1" r="4.65" fill="none" stroke="rgba(127,127,127,0.47)" stroke-width="1.7"/>
<circle cx="959" cy="663.7" r="5.5" fill="rgba(127,127,127,0.47)"/><circle cx="959" cy="663.7" r="4.65" fill="none" stroke="rgba(127,127,127,0.47)" stroke-width="1.7"/>
<circle cx="926" cy="675" r="5.5" fill="rgba(127,127,127,0.47)"/><circle cx="926" cy="675" r="4.65" fill="none" stroke="rgba(127,127,127,0.47)" stroke-width="1.7"/>
<circle cx="926" cy="678.5" r="5.5" fill="rgba(127,127,127,0.47)"/><circle cx="926" cy="678.5" r="4.65" fill="none" stroke="rgba(127,127,127,0.47)" stroke-width="1.7"/>
<circle cx="891.4" cy="695" r="5.5" fill="rgba(127,127,127,0.47)"/><circle cx="891.4" cy="695" r="4.65" fill="none" stroke="rgba(127,127,127,0.47)" stroke-width="1.7"/>
<circle cx="922" cy="715" r="5.5" fill="rgba(127,127,127,0.47)"/><circle cx="922" cy="715" r="4.65" fill="none" stroke="rgba(127,127,127,0.47)" stroke-width="1.7"/>
<circle cx="956.6" cy="716.9" r="5.5" fill="rgba(127,127,127,0.47)"/><circle cx="956.6" cy="716.9" r="4.65" fill="none" stroke="rgba(127,127,127,0.47)" stroke-width="1.7"/>
<circle cx="957.1" cy="726.8" r="5.5" fill="rgba(127,127,127,0.47)"/><circle cx="957.1" cy="726.8" r="4.65" fill="none" stroke="rgba(127,127,127,0.47)" stroke-width="1.7"/>
<circle cx="967.9" cy="760" r="5.5" fill="rgba(127,127,127,0.47)"/><circle cx="967.9" cy="760" r="4.65" fill="none" stroke="rgba(127,127,127,0.47)" stroke-width="1.7"/>
<circle cx="927.7" cy="771.1" r="5.5" fill="rgba(127,127,127,0.47)"/><circle cx="927.7" cy="771.1" r="4.65" fill="none" stroke="rgba(127,127,127,0.47)" stroke-width="1.7"/>
<circle cx="884.8" cy="818.5" r="5.5" fill="rgba(127,127,127,0.47)"/><circle cx="884.8" cy="818.5" r="4.65" fill="none" stroke="rgba(127,127,127,0.47)" stroke-width="1.7"/>
<circle cx="923.2" cy="821.3" r="5.5" fill="rgba(127,127,127,0.47)"/><circle cx="923.2" cy="821.3" r="4.65" fill="none" stroke="rgba(127,127,127,0.47)" stroke-width="1.7"/>
<circle cx="972.4" cy="819.4" r="5.5" fill="rgba(127,127,127,0.47)"/><circle cx="972.4" cy="819.4" r="4.65" fill="none" stroke="rgba(127,127,127,0.47)" stroke-width="1.7"/>
<circle cx="898.2" cy="834.7" r="5.5" fill="rgba(127,127,127,0.47)"/><circle cx="898.2" cy="834.7" r="4.65" fill="none" stroke="rgba(127,127,127,0.47)" stroke-width="1.7"/>
<circle cx="926.7" cy="853.8" r="5.5" fill="rgba(127,127,127,0.47)"/><circle cx="926.7" cy="853.8" r="4.65" fill="none" stroke="rgba(127,127,127,0.47)" stroke-width="1.7"/>
<circle cx="961.8" cy="861.8" r="5.5" fill="rgba(127,127,127,0.47)"/><circle cx="961.8" cy="861.8" r="4.65" fill="none" stroke="rgba(127,127,127,0.47)" stroke-width="1.7"/>
<circle cx="918.9" cy="928" r="5.5" fill="rgba(127,127,127,0.47)"/><circle cx="918.9" cy="928" r="4.65" fill="none" stroke="rgba(127,127,127,0.47)" stroke-width="1.7"/>
<circle cx="953.8" cy="927.3" r="5.5" fill="rgba(127,127,127,0.47)"/><circle cx="953.8" cy="927.3" r="4.65" fill="none" stroke="rgba(127,127,127,0.47)" stroke-width="1.7"/>
<circle cx="927.2" cy="940.8" r="5.5" fill="rgba(127,127,127,0.47)"/><circle cx="927.2" cy="940.8" r="4.65" fill="none" stroke="rgba(127,127,127,0.47)" stroke-width="1.7"/>
<circle cx="969.6" cy="966.2" r="5.5" fill="rgba(127,127,127,0.47)"/><circle cx="969.6" cy="966.2" r="4.65" fill="none" stroke="rgba(127,127,127,0.47)" stroke-width="1.7"/>
<circle cx="893.7" cy="982.2" r="5.5" fill="rgba(127,127,127,0.47)"/><circle cx="893.7" cy="982.2" r="4.65" fill="none" stroke="rgba(127,127,127,0.47)" stroke-width="1.7"/>
<rect x="198.30" y="879.40" width="22.3" height="95.70" fill="rgba(248,118,109,0.7)" stroke="#A0A0A0" stroke-width="2.2"/>
<line x1="198.30" x2="220.6" y1="927.3" y2="927.3" stroke="#A0A0A0" stroke-width="4.2"/>
<rect x="234.80" y="933.90" width="22.3" height="58.70" fill="rgba(0,186,56,0.7)" stroke="#A0A0A0" stroke-width="2.2"/>
<line x1="234.80" x2="257.1" y1="965.0" y2="965.0" stroke="#A0A0A0" stroke-width="4.2"/>
<line x1="293.9" x2="293.9" y1="598.6" y2="809.6" stroke="#A0A0A0" stroke-width="2.2"/>
<line x1="293.9" x2="293.9" y1="956.5" y2="996.6" stroke="#A0A0A0" stroke-width="2.2"/>
<rect x="271.60" y="810.20" width="22.3" height="146.30" fill="rgba(97,156,255,0.7)" stroke="#A0A0A0" stroke-width="2.2"/>
<line x1="271.60" x2="293.9" y1="924.2" y2="924.2" stroke="#A0A0A0" stroke-width="4.2"/>
<line x1="440.5" x2="440.5" y1="258.5" y2="468.4" stroke="#A0A0A0" stroke-width="2.2"/>
<line x1="440.5" x2="440.5" y1="784.3" y2="995.8" stroke="#A0A0A0" stroke-width="2.2"/>
<rect x="418.20" y="469.00" width="22.3" height="315.30" fill="rgba(248,118,109,0.7)" stroke="#A0A0A0" stroke-width="2.2"/>
<line x1="418.20" x2="440.5" y1="703.7" y2="703.7" stroke="#A0A0A0" stroke-width="4.2"/>
<line x1="477.0" x2="477.0" y1="689.1" y2="781.0" stroke="#A0A0A0" stroke-width="2.2"/>
<line x1="477.0" x2="477.0" y1="929.5" y2="974.3" stroke="#A0A0A0" stroke-width="2.2"/>
<rect x="454.70" y="781.60" width="22.3" height="147.90" fill="rgba(0,186,56,0.7)" stroke="#A0A0A0" stroke-width="2.2"/>
<line x1="454.70" x2="477.0" y1="879.5" y2="879.5" stroke="#A0A0A0" stroke-width="4.2"/>
<line x1="513.6" x2="513.6" y1="145.4" y2="595.3" stroke="#A0A0A0" stroke-width="2.2"/>
<line x1="513.6" x2="513.6" y1="908.7" y2="983.8" stroke="#A0A0A0" stroke-width="2.2"/>
<rect x="491.30" y="595.90" width="22.3" height="312.80" fill="rgba(97,156,255,0.7)" stroke="#A0A0A0" stroke-width="2.2"/>
<line x1="491.30" x2="513.6" y1="760.8" y2="760.8" stroke="#A0A0A0" stroke-width="4.2"/>
<line x1="660.1" x2="660.1" y1="160.0" y2="431.9" stroke="#A0A0A0" stroke-width="2.2"/>
<line x1="660.1" x2="660.1" y1="825.6" y2="905.7" stroke="#A0A0A0" stroke-width="2.2"/>
<rect x="637.80" y="432.50" width="22.3" height="393.10" fill="rgba(248,118,109,0.7)" stroke="#A0A0A0" stroke-width="2.2"/>
<line x1="637.80" x2="660.1" y1="489.6" y2="489.6" stroke="#A0A0A0" stroke-width="4.2"/>
<line x1="696.6" x2="696.6" y1="206.0" y2="454.3" stroke="#A0A0A0" stroke-width="2.2"/>
<line x1="696.6" x2="696.6" y1="913.3" y2="983.4" stroke="#A0A0A0" stroke-width="2.2"/>
<rect x="674.30" y="454.90" width="22.3" height="458.40" fill="rgba(0,186,56,0.7)" stroke="#A0A0A0" stroke-width="2.2"/>
<line x1="674.30" x2="696.6" y1="748.3" y2="748.3" stroke="#A0A0A0" stroke-width="4.2"/>
<line x1="733.3" x2="733.3" y1="176.5" y2="434.7" stroke="#A0A0A0" stroke-width="2.2"/>
<line x1="733.3" x2="733.3" y1="663.8" y2="926.3" stroke="#A0A0A0" stroke-width="2.2"/>
<rect x="711.00" y="435.30" width="22.3" height="228.50" fill="rgba(97,156,255,0.7)" stroke="#A0A0A0" stroke-width="2.2"/>
<line x1="711.00" x2="733.3" y1="571.4" y2="571.4" stroke="#A0A0A0" stroke-width="4.2"/>
<line x1="879.6" x2="879.6" y1="232.3" y2="428.6" stroke="#A0A0A0" stroke-width="2.2"/>
<line x1="879.6" x2="879.6" y1="660.4" y2="959.6" stroke="#A0A0A0" stroke-width="2.2"/>
<rect x="857.30" y="429.20" width="22.3" height="231.20" fill="rgba(248,118,109,0.7)" stroke="#A0A0A0" stroke-width="2.2"/>
<line x1="857.30" x2="879.6" y1="540.7" y2="540.7" stroke="#A0A0A0" stroke-width="4.2"/>
<line x1="916.1" x2="916.1" y1="250.0" y2="565.0" stroke="#A0A0A0" stroke-width="2.2"/>
<line x1="916.1" x2="916.1" y1="782.9" y2="950.4" stroke="#A0A0A0" stroke-width="2.2"/>
<rect x="893.80" y="565.60" width="22.3" height="217.30" fill="rgba(0,186,56,0.7)" stroke="#A0A0A0" stroke-width="2.2"/>
<line x1="893.80" x2="916.1" y1="663.2" y2="663.2" stroke="#A0A0A0" stroke-width="4.2"/>
<line x1="953.1" x2="953.1" y1="289.1" y2="517.8" stroke="#A0A0A0" stroke-width="2.2"/>
<line x1="953.1" x2="953.1" y1="745.8" y2="949.2" stroke="#A0A0A0" stroke-width="2.2"/>
<rect x="930.80" y="518.40" width="22.3" height="227.40" fill="rgba(97,156,255,0.7)" stroke="#A0A0A0" stroke-width="2.2"/>
<line x1="930.80" x2="953.1" y1="621.3" y2="621.3" stroke="#A0A0A0" stroke-width="4.2"/>
<rect x="218.85" y="797.1" width="3.5" height="195.10" fill="#000"/>
<rect x="216.70" y="801.2" width="7.8" height="186.50" fill="#000"/>
<circle cx="220.6" cy="894.4" r="8.4" fill="#000"/>
<rect x="255.35" y="848.9" width="3.5" height="205.80" fill="#000"/>
<rect x="253.20" y="853.0" width="7.8" height="197.70" fill="#000"/>
<circle cx="257.1" cy="951.8" r="8.4" fill="#000"/>
<rect x="292.15" y="794.1" width="3.5" height="177.20" fill="#000"/>
<rect x="290.00" y="798.2" width="7.8" height="169.10" fill="#000"/>
<circle cx="293.9" cy="883.4" r="8.4" fill="#000"/>
<rect x="438.75" y="571.8" width="3.5" height="195.60" fill="#000"/>
<rect x="436.60" y="576.5" width="7.8" height="186.60" fill="#000"/>
<circle cx="440.5" cy="669.6" r="8.4" fill="#000"/>
<rect x="475.25" y="772.8" width="3.5" height="194.20" fill="#000"/>
<rect x="473.10" y="776.8" width="7.8" height="186.20" fill="#000"/>
<circle cx="477.0" cy="870.0" r="8.4" fill="#000"/>
<rect x="511.85" y="595.8" width="3.5" height="177.40" fill="#000"/>
<rect x="509.70" y="599.6" width="7.8" height="169.60" fill="#000"/>
<circle cx="513.6" cy="684.2" r="8.4" fill="#000"/>
<rect x="658.35" y="476.7" width="3.5" height="195.30" fill="#000"/>
<rect x="656.20" y="480.4" width="7.8" height="188.10" fill="#000"/>
<circle cx="660.1" cy="574.2" r="8.4" fill="#000"/>
<rect x="694.85" y="599.7" width="3.5" height="191.50" fill="#000"/>
<rect x="692.70" y="603.7" width="7.8" height="184.20" fill="#000"/>
<circle cx="696.6" cy="696.0" r="8.4" fill="#000"/>
<rect x="731.55" y="463.3" width="3.5" height="175.30" fill="#000"/>
<rect x="729.40" y="467.0" width="7.8" height="168.00" fill="#000"/>
<circle cx="733.3" cy="550.9" r="8.4" fill="#000"/>
<rect x="877.85" y="465.6" width="3.5" height="192.90" fill="#000"/>
<rect x="875.70" y="469.8" width="7.8" height="185.90" fill="#000"/>
<circle cx="879.6" cy="562.6" r="8.4" fill="#000"/>
<rect x="914.35" y="576.5" width="3.5" height="193.00" fill="#000"/>
<rect x="912.20" y="580.3" width="7.8" height="184.40" fill="#000"/>
<circle cx="916.1" cy="673.1" r="8.4" fill="#000"/>
<rect x="951.35" y="542.6" width="3.5" height="174.80" fill="#000"/>
<rect x="949.20" y="545.9" width="7.8" height="167.50" fill="#000"/>
<circle cx="953.1" cy="629.8" r="8.4" fill="#000"/>
<rect x="126.0" y="6.7" width="921.5" height="1093.3" fill="none" stroke="#2E2E2E" stroke-width="1.8"/>
<line x1="118.6" x2="126.0" y1="998.20" y2="998.20" stroke="#1E1E1E" stroke-width="2.3"/>
<text x="112.8" y="1010.00" text-anchor="end" class="ax">0</text>
<line x1="118.6" x2="126.0" y1="679.20" y2="679.20" stroke="#1E1E1E" stroke-width="2.3"/>
<text x="112.8" y="691.00" text-anchor="end" class="ax">100</text>
<line x1="118.6" x2="126.0" y1="360.20" y2="360.20" stroke="#1E1E1E" stroke-width="2.3"/>
<text x="112.8" y="372.00" text-anchor="end" class="ax">200</text>
<line x1="118.6" x2="126.0" y1="41.20" y2="41.20" stroke="#1E1E1E" stroke-width="2.3"/>
<text x="112.8" y="53.00" text-anchor="end" class="ax">300</text>
<line x1="257.6" x2="257.6" y1="1100.0" y2="1107.8" stroke="#1E1E1E" stroke-width="2.3"/>
<text x="257.6" y="1136.4" text-anchor="middle" class="ax">NB</text>
<line x1="477.0" x2="477.0" y1="1100.0" y2="1107.8" stroke="#1E1E1E" stroke-width="2.3"/>
<text x="477.0" y="1136.4" text-anchor="middle" class="ax">BAB1</text>
<line x1="696.4" x2="696.4" y1="1100.0" y2="1107.8" stroke="#1E1E1E" stroke-width="2.3"/>
<text x="696.4" y="1136.4" text-anchor="middle" class="ax">HLS</text>
<line x1="915.8" x2="915.8" y1="1100.0" y2="1107.8" stroke="#1E1E1E" stroke-width="2.3"/>
<text x="915.8" y="1136.4" text-anchor="middle" class="ax">BAB2</text>
<text x="586.85" y="1182" text-anchor="middle" class="tt">Presentation condition</text>
<text transform="translate(37.5,552.75) rotate(-90)" text-anchor="middle" class="tt">Mean Total Partner-directed Gaze Duration (sec)</text>
<text x="1169" y="493.7" class="lt">Group</text>
<line x1="1111.1" x2="1111.1" y1="528.9" y2="562.9" stroke="#A0A0A0" stroke-width="2.2"/>
<rect x="1094.9" y="535.20" width="32.8" height="21.4" fill="#fff"/>
<rect x="1094.9" y="535.20" width="32.8" height="21.4" fill="rgba(248,118,109,0.7)" stroke="#A0A0A0" stroke-width="2.2"/>
<line x1="1094.9" x2="1127.7" y1="545.9" y2="545.9" stroke="#A0A0A0" stroke-width="2.2"/>
<circle cx="1111.1" cy="545.9" r="8.6" fill="#000"/>
<text x="1154.6" y="557.80" class="lx">Older adult HL</text>
<line x1="1111.1" x2="1111.1" y1="572.3" y2="606.3" stroke="#A0A0A0" stroke-width="2.2"/>
<rect x="1094.9" y="578.60" width="32.8" height="21.4" fill="#fff"/>
<rect x="1094.9" y="578.60" width="32.8" height="21.4" fill="rgba(0,186,56,0.7)" stroke="#A0A0A0" stroke-width="2.2"/>
<line x1="1094.9" x2="1127.7" y1="589.3" y2="589.3" stroke="#A0A0A0" stroke-width="2.2"/>
<circle cx="1111.1" cy="589.3" r="8.6" fill="#000"/>
<text x="1154.6" y="601.20" class="lx">Older adult NH</text>
<line x1="1111.1" x2="1111.1" y1="615.6999999999999" y2="649.6999999999999" stroke="#A0A0A0" stroke-width="2.2"/>
<rect x="1094.9" y="622.00" width="32.8" height="21.4" fill="#fff"/>
<rect x="1094.9" y="622.00" width="32.8" height="21.4" fill="rgba(97,156,255,0.7)" stroke="#A0A0A0" stroke-width="2.2"/>
<line x1="1094.9" x2="1127.7" y1="632.6999999999999" y2="632.6999999999999" stroke="#A0A0A0" stroke-width="2.2"/>
<circle cx="1111.1" cy="632.6999999999999" r="8.6" fill="#000"/>
<text x="1154.6" y="644.60" class="lx">Younger adult NH</text>
</svg></body></html>
